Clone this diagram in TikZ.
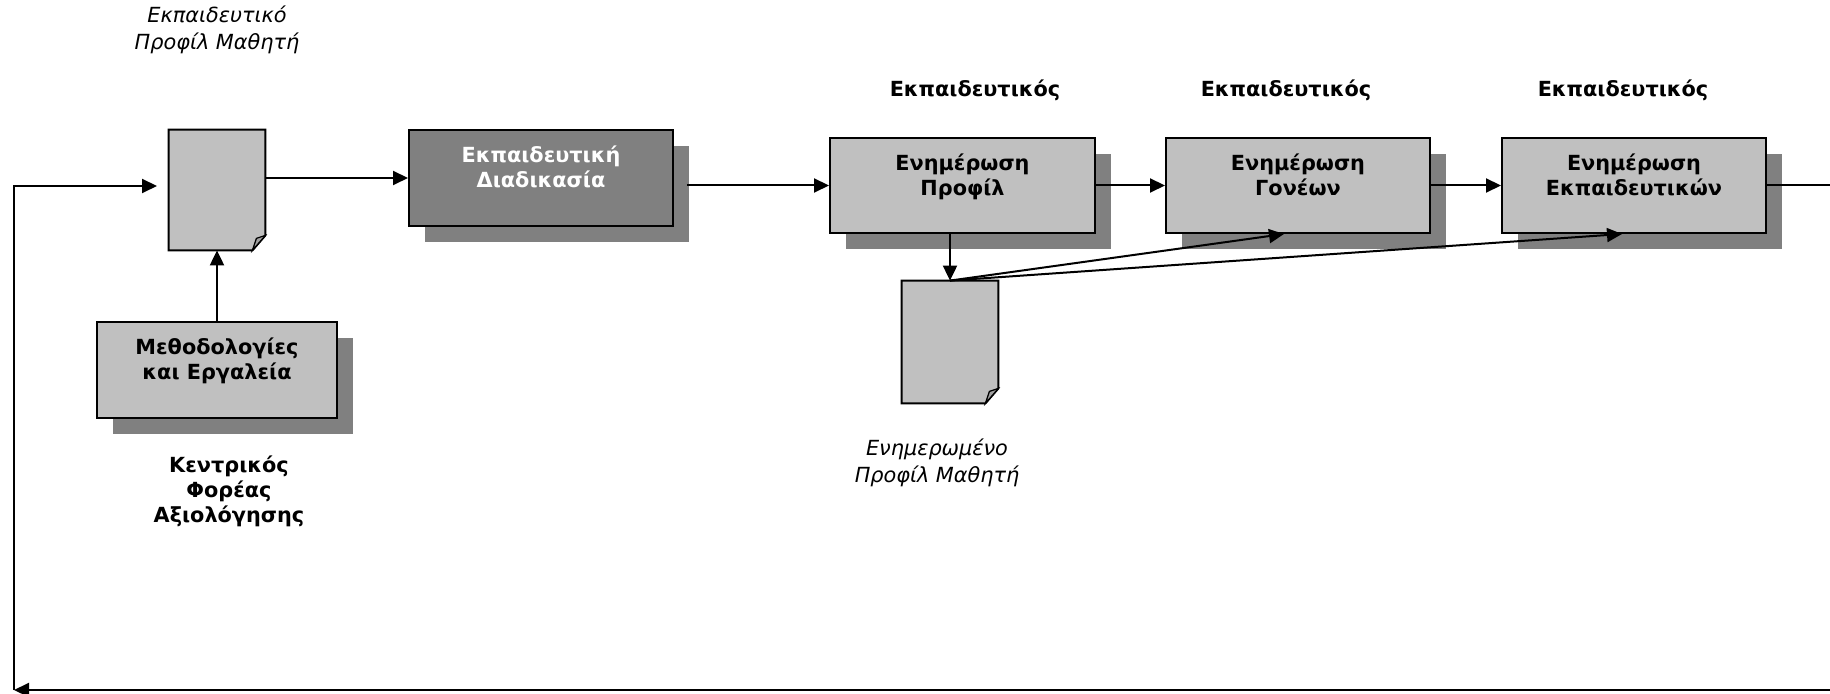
\documentclass[tikz,border=0pt]{standalone}
\usepackage{fontspec}
\setmainfont{DejaVu Sans}
\usetikzlibrary{arrows.meta,shadows,calc}
\definecolor{lgray}{HTML}{C0C0C0}
\definecolor{dgray}{HTML}{808080}
\definecolor{fgray}{HTML}{A0A0A0}
\tikzset{
  box/.style={draw=black, line width=1pt, fill=lgray, minimum width=#1, minimum height=47.5pt, inner sep=0pt,
    drop shadow={shadow xshift=8pt, shadow yshift=-8pt, fill=dgray, opacity=1}},
  darkbox/.style={box=#1, fill=dgray},
  docnode/.style={draw=none, minimum width=48pt, minimum height=60pt, inner sep=0pt},
  docfill/.style={draw=black, line width=1pt, fill=lgray},
  foldfill/.style={draw=black, line width=0.6pt, fill=fgray},
  boxtext/.style={font=\fontsize{10.4}{12.5}\selectfont\bfseries, align=center, inner sep=0pt, anchor=north},
  bold/.style={font=\fontsize{10.4}{12.5}\selectfont\bfseries, align=center, inner sep=0pt},
  ital/.style={font=\fontsize{10.4}{13.5}\selectfont\itshape, align=center, inner sep=0pt},
  conn/.style={line width=1pt, draw=black},
  arr/.style={conn, -{Triangle[length=7.5pt,width=7pt]}},
}
\newcommand{\docshape}[1]{%
  \draw[docfill] (#1.north west) -- (#1.north east) -- ([yshift=7.5pt]#1.south east) -- ([xshift=-6.5pt]#1.south east) -- (#1.south west) -- cycle;
  \draw[foldfill] ([xshift=-6.5pt]#1.south east) -- ([xshift=-4.5pt,yshift=6pt]#1.south east) -- ([yshift=7.5pt]#1.south east) -- cycle;}
\begin{document}
\begin{tikzpicture}[x=0.5pt,y=-0.5pt]
\clip (0,0) rectangle (1830,694);
\fill[white] (0,0) rectangle (1830,694);
% documents
\node[docnode] (d1) at (217,190) {};
\docshape{d1}
\node[docnode, minimum height=61pt] (d2) at (950,342) {};
\docshape{d2}
% boxes
\node[box=120pt, minimum height=48pt] (met) at (217,370) {};
\node[boxtext] (mett) at ([yshift=-8pt]met.north) {Μεθοδολογίες\\και Εργαλεία};
\node[darkbox=132pt, minimum height=48pt] (edu) at (541,178) {};
\node[boxtext, text=white] (edut) at ([yshift=-8pt]edu.north) {Εκπαιδευτική\\Διαδικασία};
\node[box=132.5pt] (p1) at (962.5,185.5) {};
\node[boxtext] (p1t) at ([yshift=-8pt]p1.north) {Ενημέρωση\\Προφίλ};
\node[box=132pt] (p2) at (1298,185.5) {};
\node[boxtext] (p2t) at ([yshift=-8pt]p2.north) {Ενημέρωση\\Γονέων};
\node[box=132pt] (p3) at (1634,185.5) {};
\node[boxtext] (p3t) at ([yshift=-8pt]p3.north) {Ενημέρωση\\Εκπαιδευτικών};
% labels
\node[ital] (l1) at (217,30) {Εκπαιδευτικό\\Προφίλ Μαθητή};
\node[bold] (l2) at (229,491) {Κεντρικός\\Φορέας\\Αξιολόγησης};
\node[bold] (l3) at (975,90) {Εκπαιδευτικός};
\node[bold] (l4) at (1286,90) {Εκπαιδευτικός};
\node[bold] (l5) at (1623,90) {Εκπαιδευτικός};
\node[ital] (l6) at (937,463) {Ενημερωμένο\\Προφίλ Μαθητή};
% connectors
\draw[arr] (d1.east |- edu.west) -- (edu.west);
\draw[arr] (met.north) -- (d1.south);
\draw[arr] ([xshift=6.5pt]edu.east |- p1.west) -- (p1.west);
\draw[arr] (p1.east) -- (p2.west);
\draw[arr] (p2.east) -- (p3.west);
\draw[arr] (p1.south -| d2.north) -- (d2.north);
\draw[arr] (d2.north) -- ([xshift=-7pt]p2.south);
\draw[arr] (d2.north) -- ([xshift=-6pt]p3.south);
\coordinate (fbl) at (14,690);
\coordinate (fbin) at (157,186);
\draw[arr] (p3.east) -- ++(90,0) |- (fbl);
\draw[arr] (fbl) |- (fbin);
\end{tikzpicture}
\end{document}
